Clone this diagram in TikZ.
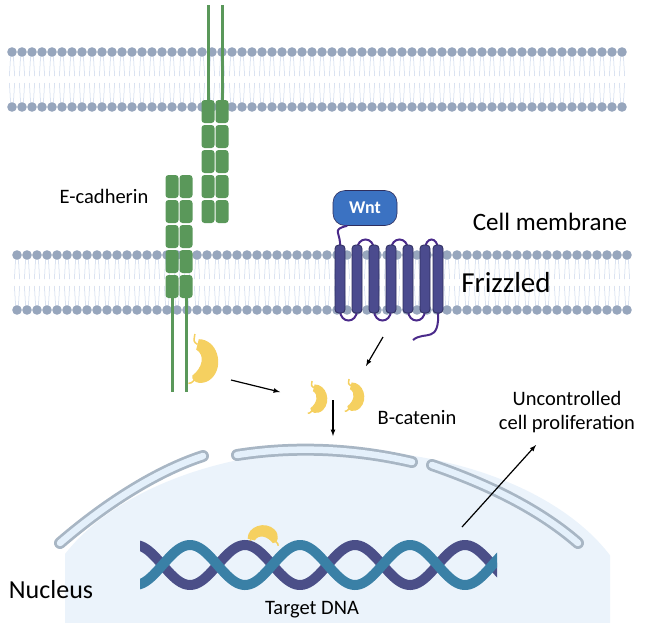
\documentclass[tikz,border=0pt]{standalone}
\usepackage{fontspec}
\setmainfont{Carlito}
\begin{document}
\begin{tikzpicture}[x=1pt,y=-1pt,
  head/.style={fill=headc},
  tail/.style={draw=tailc,line width=0.5pt},
  cad/.style={fill=cadc,rounded corners=3pt},
  stem/.style={draw=cadc,line width=3pt},
  bar/.style={fill=fzc,draw=fzd,line width=0.8pt,rounded corners=3.5pt},
  loop/.style={draw=loopc,line width=2pt},
  arr/.style={-latex,line width=1.2pt},
  env/.style={line width=12pt,draw=envc,line cap=round},
  envin/.style={line width=6.5pt,draw=envi,line cap=round},
  lab/.style={font=\fontsize{20.5}{24}\selectfont,align=center},
  big/.style={font=\fontsize{25}{28}\selectfont}]
\definecolor{headc}{HTML}{97A6BD}
\definecolor{tailc}{HTML}{C7D4EA}
\definecolor{cadc}{HTML}{5A985A}
\definecolor{fzc}{HTML}{4B4B8E}
\definecolor{fzd}{HTML}{2E2E5E}
\definecolor{loopc}{HTML}{4A2A8A}
\definecolor{wntc}{HTML}{3B72C2}
\definecolor{catc}{HTML}{F5D060}
\definecolor{envc}{HTML}{A8B6C4}
\definecolor{envi}{HTML}{E4F0FB}
\definecolor{nucf}{HTML}{EBF3FB}
\definecolor{dnaA}{HTML}{3A80A6}
\definecolor{dnaB}{HTML}{4B4F88}
\useasboundingbox (0,0) rectangle (649,633);
% nucleus fill
\begin{scope}
\clip (65,440) rectangle (610,622);
\fill[nucf] (337,630) ellipse [x radius=300, y radius=180];
\end{scope}
% membranes
\foreach \yt/\yb/\xa in {52/107/12, 255/310/17}{
  \foreach \i [evaluate=\i as \x using \xa+10*\i] in {0,...,61}{
    \draw[tail] ({\x-1.5},{\yt+4}) -- ({\x-2.5},{\yt+24}) ({\x+1.5},{\yt+4}) -- ({\x+2.5},{\yt+24});
    \draw[tail] ({\x-1.5},{\yb-4}) -- ({\x-2.5},{\yb-24}) ({\x+1.5},{\yb-4}) -- ({\x+2.5},{\yb-24});
    \fill[head] (\x,\yt) circle (4.8);
    \fill[head] (\x,\yb) circle (4.8);
  }
}
% E-cadherin
\foreach \x in {172,186}{
  \draw[stem] (\x,295) -- (\x,392);
  \foreach \y in {175,200,225,250,275}{\fill[cad] ({\x-6.5},\y) rectangle ({\x+6.5},{\y+23});}
}
\foreach \x in {208,222}{
  \draw[stem] (\x,5) -- (\x,105);
  \foreach \y in {100,125,150,175,200}{\fill[cad] ({\x-6.5},\y) rectangle ({\x+6.5},{\y+23});}
}
% Frizzled loops
\node[fill=wntc,draw=fzd,line width=0.6pt,rounded corners=12pt,minimum width=64pt,minimum height=35pt,text=white,font=\bfseries\fontsize{18}{20}\selectfont] (wnt) at (365,208) {Wnt};
\draw[loop] (wnt.225) .. controls (330,230) and (342,232) .. (340,250);
\foreach \a/\b in {357/374,391/408,425/438}{\draw[loop] (\a,250) .. controls (\a,236) and (\b,236) .. (\b,250);}
\foreach \a/\b in {340/357,374/391,408/425}{\draw[loop] (\a,310) .. controls (\a,324) and (\b,324) .. (\b,310);}
\coordinate (ct) at (413,340);
\draw[loop] (438,310) .. controls (440,345) and (425,330) .. (ct);
\foreach \x in {340,357,374,391,408,425,438}{\draw[bar] ({\x-5},245) rectangle ({\x+5},313);}
% beta-catenin pic
\tikzset{bcat/.pic={
  \fill[catc] (-4,-16) .. controls (10,-16) and (16,4) .. (6,14) .. controls (0,20) and (-10,18) .. (-9,12) .. controls (-1,6) and (1,-4) .. (-6,-8) -- cycle;
  \draw[catc,line width=1.5pt] (-5,-12) .. controls (-8,-14) .. (-7,-20);
  \draw[catc,line width=1.5pt] (-6,14) .. controls (-10,18) .. (-12,18);
}}
\pic[scale=1.3] at (204,360) {bcat};
\pic[scale=0.85] at (318,398) {bcat};
\pic[scale=0.85] at (355,396) {bcat};
\pic[rotate=90,scale=0.9] at (262,535) {bcat};
% nuclear envelope
\draw[env] (60,543) .. controls (110,500) and (160,470) .. (203,456);
\draw[envin] (60,543) .. controls (110,500) and (160,470) .. (203,456);
\draw[env] (237,455) .. controls (300,445) and (360,450) .. (412,462);
\draw[envin] (237,455) .. controls (300,445) and (360,450) .. (412,462);
\draw[env] (432,465) .. controls (490,485) and (540,510) .. (578,543);
\draw[envin] (432,465) .. controls (490,485) and (540,510) .. (578,543);
% DNA
\begin{scope}
\clip (140,530) rectangle (497,600);
\draw[dnaB,line width=10pt] plot[domain=130:510,samples=150] (\x,{565+20*cos(3.2727*(\x-190))});
\draw[dnaA,line width=10pt] plot[domain=130:510,samples=150] (\x,{565-20*cos(3.2727*(\x-190))});
\end{scope}
% arrows
\coordinate (a1) at (231,380); \coordinate (a2) at (280,392);
\coordinate (b1) at (383,337); \coordinate (b2) at (366,366);
\coordinate (c1) at (333,400); \coordinate (c2) at (333,436);
\coordinate (d1) at (462,527); \coordinate (d2) at (536,445);
\draw[arr] (a1) -- (a2);
\draw[arr] (b1) -- (b2);
\draw[arr] (c1) -- (c2);
\draw[arr] (d1) -- (d2);
% labels
\node[lab] (ecad) at (104,196) {E-cadherin};
\node[big] (cm) at (550,222) {Cell membrane};
\node[font=\fontsize{29}{32}\selectfont] (fz) at (506,283) {Frizzled};
\node[lab] (bc) at (417,418) {B-catenin};
\node[lab] (uc) at (567,412) {Uncontrolled\\cell proliferation};
\node[font=\fontsize{26}{29}\selectfont] (nu) at (51,590) {Nucleus};
\node[lab] (td) at (312,610) {Target DNA};
\end{tikzpicture}
\end{document}
